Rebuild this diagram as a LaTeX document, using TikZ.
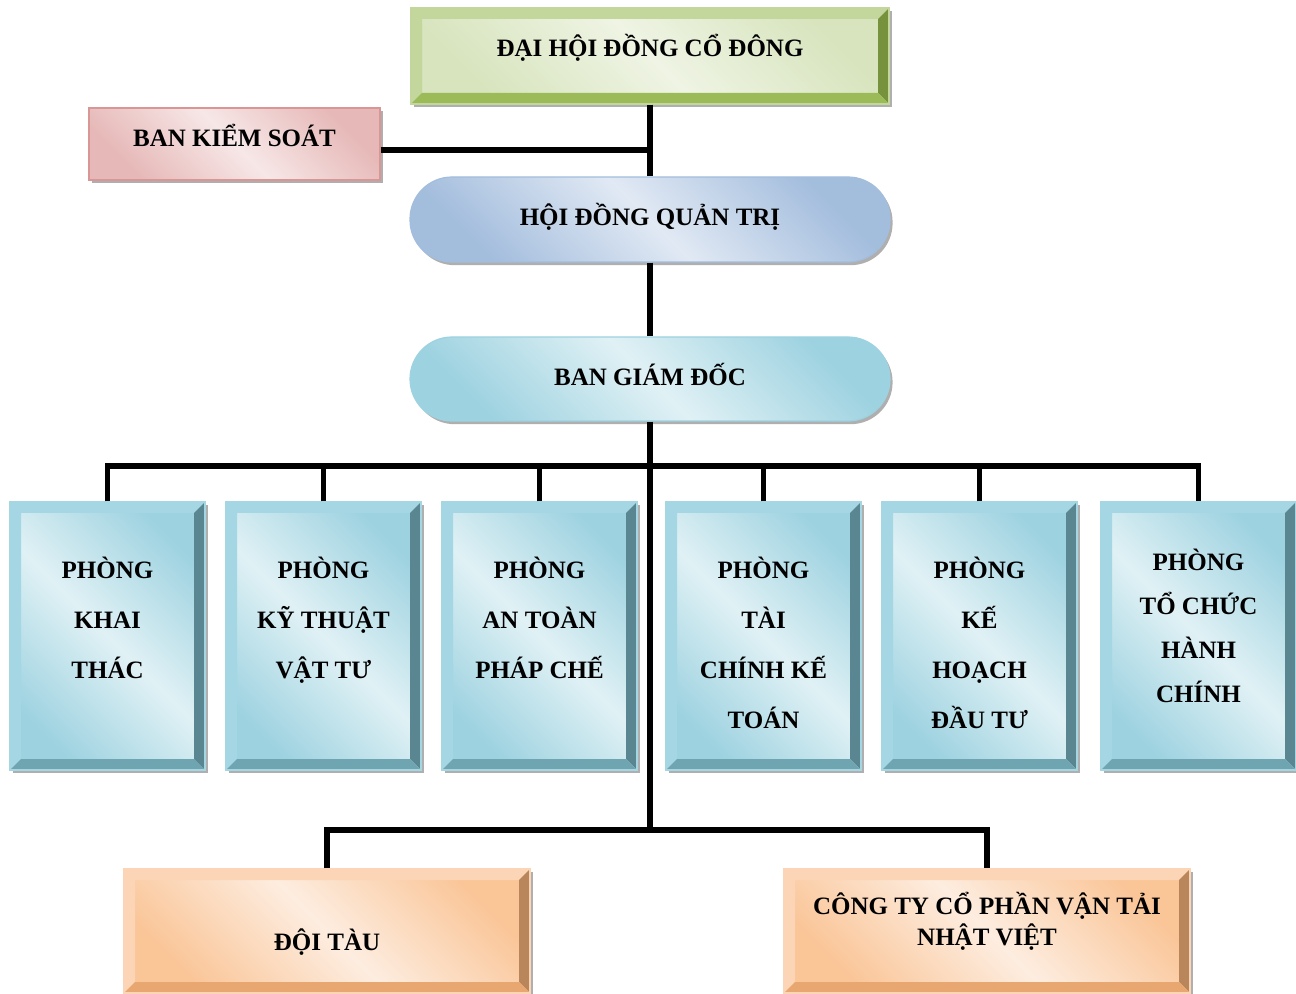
\documentclass[tikz,border=0pt]{standalone}
\usepackage{fontspec}
\setmainfont{Liberation Serif}
\usetikzlibrary{shadows}

\definecolor{grnA}{HTML}{D7E4BD}
\definecolor{grnB}{HTML}{EFF4E4}
\definecolor{grnlt}{HTML}{C3D69B}
\definecolor{grndk}{HTML}{76923C}
\definecolor{grnmd}{HTML}{9BBB59}
\definecolor{pnkA}{HTML}{E6B9B8}
\definecolor{pnkB}{HTML}{F7E7E7}
\definecolor{pnkln}{HTML}{D99694}
\definecolor{bluA}{HTML}{A3BDDD}
\definecolor{bluB}{HTML}{E1E9F4}
\definecolor{cyaA}{HTML}{9DD2E0}
\definecolor{cyaB}{HTML}{E0F1F5}
\definecolor{cyalt}{HTML}{A5D6E3}
\definecolor{cyadk}{HTML}{5A8692}
\definecolor{cyamd}{HTML}{6FA4B1}
\definecolor{orgA}{HTML}{FAC597}
\definecolor{orgB}{HTML}{FDEDE0}
\definecolor{orglt}{HTML}{FBD5B5}
\definecolor{orgdk}{HTML}{B8865A}
\definecolor{orgmd}{HTML}{E8A670}

\newcommand{\bevw}{5.5pt}
% text block: raise, line distance, rows
\newcommand{\stk}[3]{\raisebox{#1}[0pt][0pt]{\fontsize{12.5}{#2}\selectfont\begin{tabular}{@{}c@{}}#3\end{tabular}}}

\tikzset{
  link/.style={line width=2.7pt},
  shadowed/.style={drop shadow={shadow xshift=1.3pt,shadow yshift=-1.6pt,fill=gray!70,opacity=.9}},
  face/.style 2 args={top color=#1,bottom color=#1,middle color=#2,shading angle=-45},
  bevel/.style n args={3}{path picture={
    \path (path picture bounding box.north west) coordinate (bv-a)
          (path picture bounding box.north east) coordinate (bv-b)
          (path picture bounding box.south east) coordinate (bv-c)
          (path picture bounding box.south west) coordinate (bv-d);
    \fill[#1] (bv-a) -- (bv-b) -- ([shift={(-\bevw,-\bevw)}]bv-b) -- ([shift={(\bevw,-\bevw)}]bv-a) -- cycle
              (bv-a) -- ([shift={(\bevw,-\bevw)}]bv-a) -- ([shift={(\bevw,\bevw)}]bv-d) -- (bv-d) -- cycle;
    \fill[#2] (bv-b) -- (bv-c) -- ([shift={(-\bevw,\bevw)}]bv-c) -- ([shift={(-\bevw,-\bevw)}]bv-b) -- cycle;
    \fill[#3] (bv-d) -- (bv-c) -- ([shift={(-\bevw,\bevw)}]bv-c) -- ([shift={(\bevw,\bevw)}]bv-d) -- cycle;
  }},
  box/.style={rectangle, inner sep=0pt, font=\bfseries, line width=.6pt, shadowed},
  dept/.style={box, face={cyaA}{cyaB}, bevel={cyalt}{cyadk}{cyamd}, draw=cyalt,
    minimum width=97.5pt, minimum height=134pt},
  unit/.style={box, face={orgA}{orgB}, bevel={orglt}{orgdk}{orgmd}, draw=orglt,
    minimum width=203pt, minimum height=62pt},
}

\begin{document}
\begin{tikzpicture}[x=0.5pt,y=0.5pt]
  \useasboundingbox (0,0) rectangle (1296,-994);

  \node[box, face={grnA}{grnB}, bevel={grnlt}{grndk}{grnmd}, draw=grnlt,
    minimum width=239pt, minimum height=48pt] (dhcd) at (650,-56)
    {\stk{1.8pt}{25pt}{ĐẠI HỘI ĐỒNG CỔ ĐÔNG}};
  \node[box, face={pnkA}{pnkB}, draw=pnkln,
    minimum width=145.5pt, minimum height=36pt] (bks) at (234.5,-144)
    {\stk{0.8pt}{25pt}{BAN KIỂM SOÁT}};
  \node[box, face={bluA}{bluB}, draw=bluA, rounded corners=21pt,
    minimum width=240pt, minimum height=42.5pt] (hdqt) at (650,-219.5)
    {\stk{-0.9pt}{25pt}{HỘI ĐỒNG QUẢN TRỊ}};
  \node[box, face={cyaA}{cyaB}, draw=cyaA, rounded corners=21pt,
    minimum width=240pt, minimum height=42pt] (bgd) at (650,-379)
    {\stk{-1.2pt}{25pt}{BAN GIÁM ĐỐC}};

  % phong ban
  \foreach \i/\x/\h/\b/\t in {
      1/107.5/5.8pt/25pt/{PHÒNG\\KHAI\\THÁC},
      2/323.5/5.8pt/25pt/{PHÒNG\\KỸ THUẬT\\VẬT TƯ},
      3/539.5/5.8pt/25pt/{PHÒNG\\AN TOÀN\\PHÁP CHẾ},
      4/763.5/-6.7pt/25pt/{PHÒNG\\TÀI\\CHÍNH KẾ\\TOÁN},
      5/979.5/-6.7pt/25pt/{PHÒNG\\KẾ\\HOẠCH\\ĐẦU TƯ},
      6/1198.5/1.2pt/22pt/{PHÒNG\\TỔ CHỨC\\HÀNH\\CHÍNH}}
    \node[dept] (d\i) at (\x,-636) {\stk{\h}{\b}{\t}};

  \node[unit] (doi) at (327,-931) {\stk{-7.7pt}{25pt}{ĐỘI TÀU}};
  \node[unit] (cty) at (987,-931) {\stk{0.95pt}{14.5pt}{CÔNG TY CỔ PHẦN VẬN TẢI\\NHẬT VIỆT}};

  \coordinate (busa) at (650,-466);
  \coordinate (busb) at (650,-830);

  \draw[link] (dhcd.south) -- (hdqt.north);
  \draw[link] ([yshift=-3pt]bks.east) -- ([yshift=-3pt]bks.east -| dhcd.south);
  \draw[link] (hdqt.south) -- (bgd.north);
  \draw[link] (bgd.south) -- (busb);
  \draw[link] (d1.north) |- (busa) -| (d6.north);
  \foreach \i in {2,...,5}
    \draw[link] (d\i.north) -- (d\i.north |- busa);
  \draw[link] (doi.north) |- (busb) -| (cty.north);
\end{tikzpicture}
\end{document}
